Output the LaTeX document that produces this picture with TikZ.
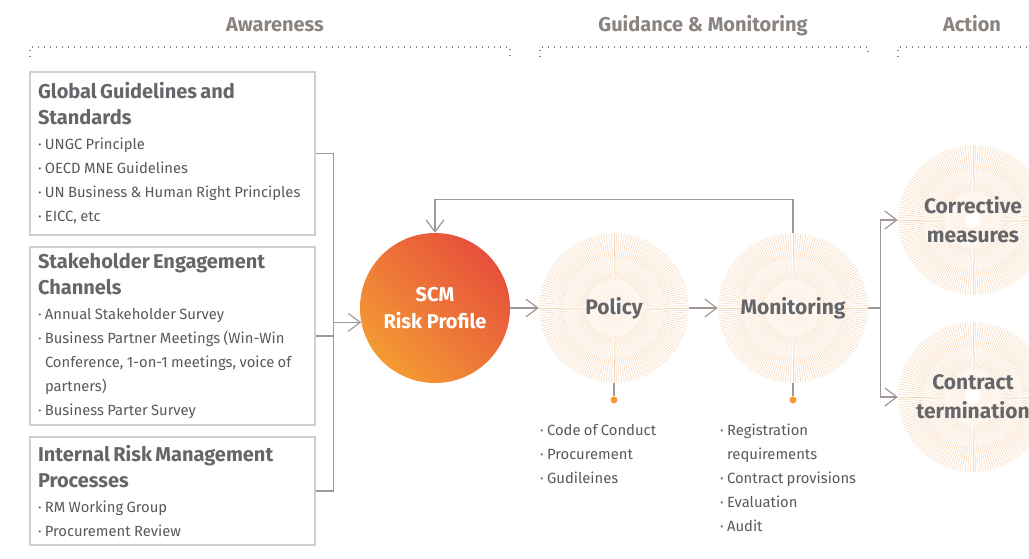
\documentclass[tikz,border=0pt]{standalone}
\usepackage{fontspec}
\setmainfont{Fira Sans}
\usetikzlibrary{arrows.meta,positioning}

\definecolor{headgray}{HTML}{8A837F}
\definecolor{panelgray}{HTML}{D3CECC}
\definecolor{linkgray}{HTML}{9F9896}
\definecolor{titlegray}{HTML}{65666A}
\definecolor{textgray}{HTML}{58595B}
\definecolor{rayorange}{HTML}{F9D7B6}
\definecolor{raymid}{HTML}{FBE6D2}
\definecolor{rayfaint}{HTML}{FEF3E9}
\definecolor{dotorange}{HTML}{F39A35}
\definecolor{scmorange}{HTML}{F49A34}
\definecolor{scmmid}{HTML}{F28D37}
\definecolor{scmred}{HTML}{E6503B}

\setlength{\parindent}{0pt}
\newcommand{\paneltitle}[1]{{\fontsize{20}{26}\selectfont\bfseries\color{titlegray}#1\par}\vspace{1pt}}
\newcommand{\pitem}[1]{{\fontsize{14.8}{24}\selectfont\hangindent=7pt\hangafter=1 ·\ #1\par}}

\begin{document}
\begin{tikzpicture}[x=1pt,y=-1pt,
  heading/.style={font=\fontsize{20}{22}\selectfont\bfseries,text=headgray,anchor=base},
  dots/.style={draw=headgray,line width=1.1pt,dash pattern=on 1.1pt off 4.9pt},
  panel/.style={draw=panelgray,line width=2.4pt,inner xsep=8pt,inner ysep=0pt,
    text width=269pt,minimum height=#1,text=textgray},
  link/.style={draw=linkgray,line width=1.2pt},
  arr/.style={link,-{Straight Barb[length=12pt,width=18pt]}},
  rays/.style={fill=white,path picture={
    \foreach \a in {0,2,...,358} {
      \draw[rayfaint,line width=0.5pt] (path picture bounding box.center) ++(\a:8) -- ++(\a:20);
      \draw[raymid,line width=0.5pt] (path picture bounding box.center) ++(\a:28) -- ++(\a:22);
      \draw[rayorange,line width=0.5pt] (path picture bounding box.center) ++(\a:50) -- ++(\a:30);}}},
  stage/.style={circle,minimum size=150pt,inner sep=0pt,rays,align=center,
    font=\fontsize{21}{29}\selectfont\bfseries,text=titlegray},
  scm/.style={circle,minimum size=150pt,inner sep=0pt,align=center,
    top color=scmred,middle color=scmmid,bottom color=scmorange,shading angle=-45,
    font=\fontsize{20}{27}\selectfont\bfseries,text=white},
  dotmark/.style={circle,fill=dotorange,inner sep=0pt,minimum size=7pt},
  listtext/.style={text width=160pt,inner sep=0pt,text=textgray,anchor=north west}]
\clip (0,0) rectangle (1029,558);

% headings
\node[heading] (aware) at (275,31) {Awareness};
\node[heading] (guide) at (703,31) {Guidance \& Monitoring};
\node[heading] (act) at (972,31) {Action};
\draw[dots] (30,57) -- (30,47) -- (510,47) -- (510,57);
\draw[dots] (540,57) -- (540,47) -- (868,47) -- (868,57);
\draw[dots] (898,57) -- (898,47) -- (1040,47);

% awareness panels
\node[panel=163pt] (gg) at (172.5,153.5) {\paneltitle{Global Guidelines and\\Standards}
  \pitem{UNGC Principle}\pitem{OECD MNE Guidelines}
  \pitem{UN Business \& Human Right Principles}\pitem{EICC, etc}};
\node[panel=178pt] (sec) at (172.5,336) {\paneltitle{Stakeholder Engagement\\Channels}
  \pitem{Annual Stakeholder Survey}
  \pitem{Business Partner Meetings (Win-Win\newline Conference, 1-on-1 meetings, voice of\newline partners)}
  \pitem{Business Parter Survey}};
\node[panel=108pt] (irm) at (172.5,491) {\paneltitle{Internal Risk Management\\Processes}
  \pitem{RM Working Group}\pitem{Procurement Review}};

% stages
\node[scm] (scm) at (435,308) {SCM\\Risk Profile};
\node[stage] (pol) at (614,308) {Policy};
\node[stage] (mon) at (793,308) {Monitoring};
\node[stage] (cor) at (973,220) {Corrective\\measures};
\node[stage] (ter) at (973,397) {Contract\\termination};

\draw[link] (gg.east) -- ++(17,0) coordinate (join) |- (irm.east);
\draw[link] (sec.east) -- (sec.east -| join);
\draw[arr] (scm.191.5 -| join) -- (scm.191.5);
\draw[arr] (scm) -- (pol);
\draw[arr] (pol) -- (mon);
\draw[arr] (mon.north) -- ++(0,-33) -| (scm.north);
\draw[link] (mon.east) -- ++(12,0) coordinate (fork);
\draw[arr] (fork) |- (cor.west);
\draw[arr] (fork) |- (ter.west);

% details
\node[dotmark,below=13pt of pol] (poldot) {};
\node[dotmark,below=13pt of mon] (mondot) {};
\draw[link] (pol) -- (poldot);
\draw[link] (mon) -- (mondot);
\node[listtext] (poltxt) at (540,424) {\pitem{Code of Conduct}\pitem{Procurement}\pitem{Gudileines}};
\node[listtext] (montxt) at (720,424) {\pitem{Registration\newline requirements}\pitem{Contract provisions}
  \pitem{Evaluation}\pitem{Audit}};
\end{tikzpicture}
\end{document}
